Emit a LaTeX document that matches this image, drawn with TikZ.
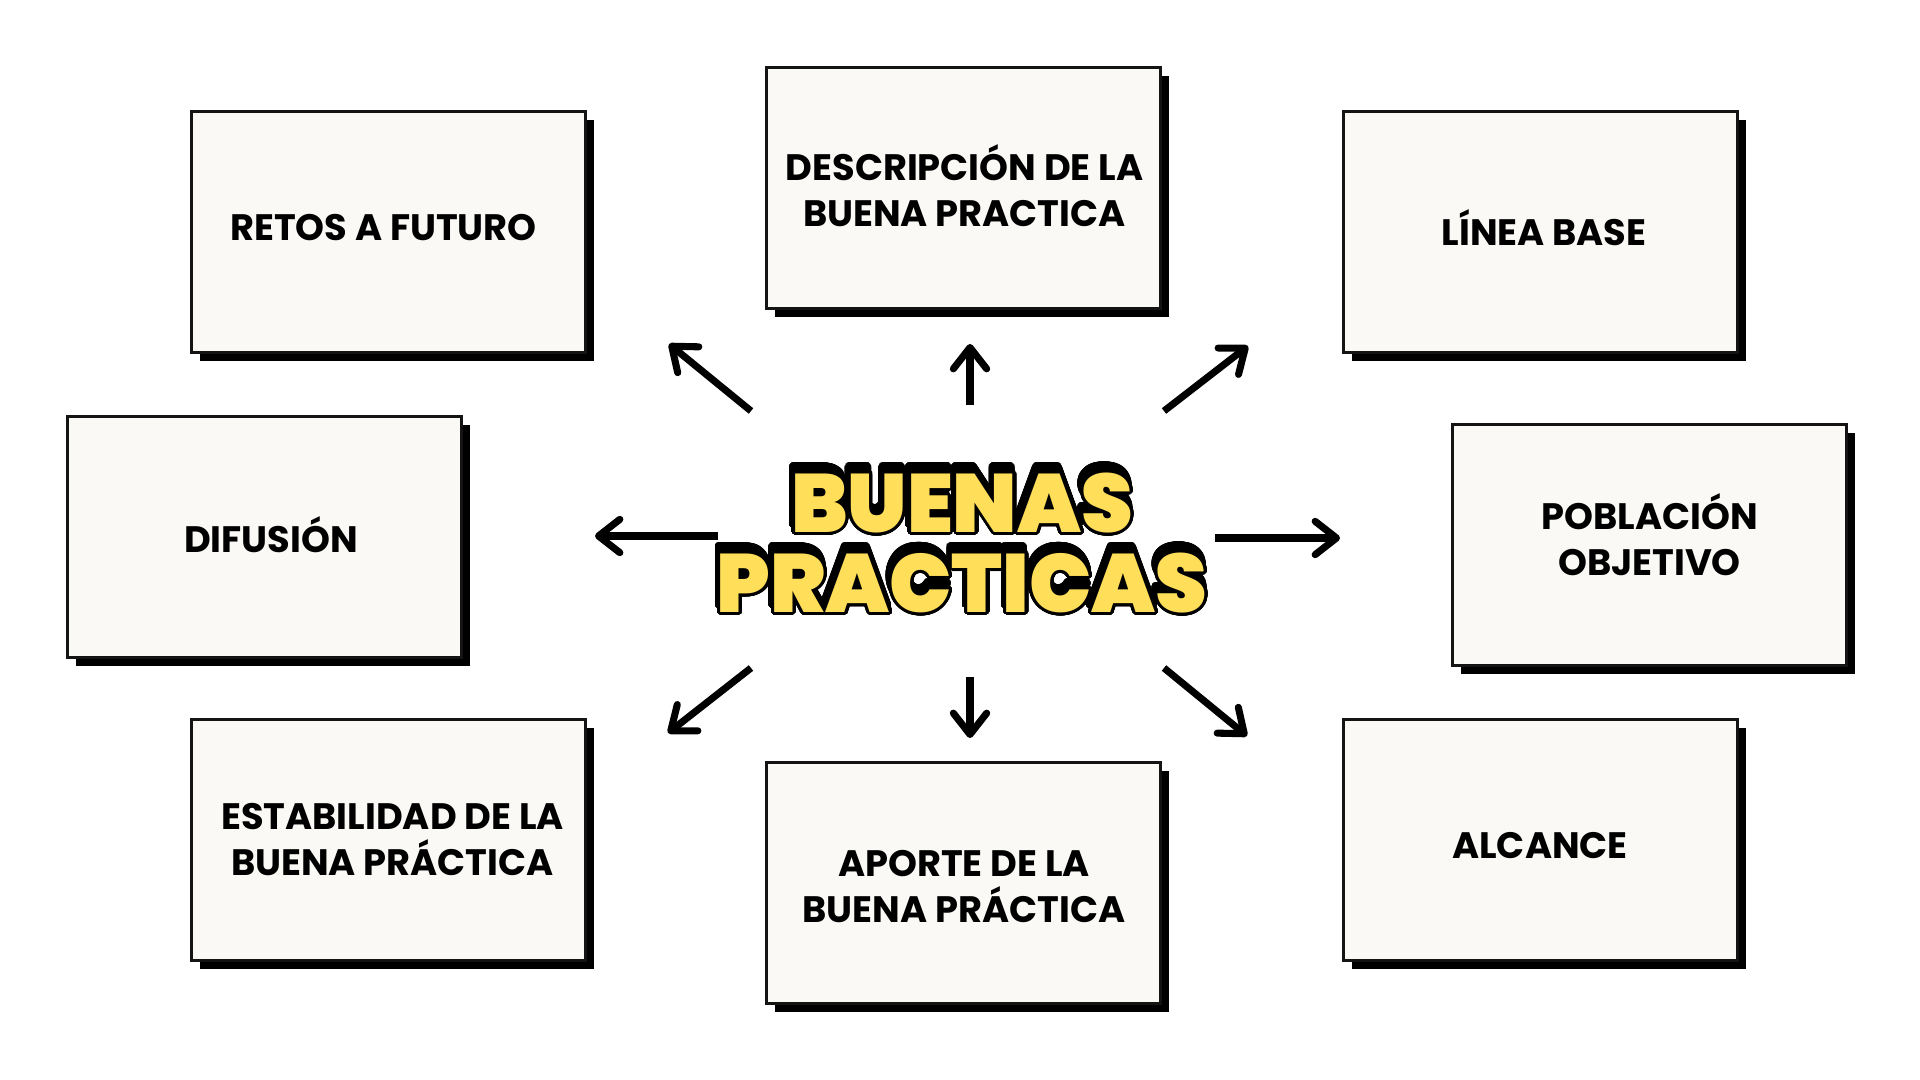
\documentclass[tikz,border=0pt]{standalone}
\usepackage{fontspec}
\usepackage[copies]{contour}
\usetikzlibrary{arrows.meta,shadows}
\newfontfamily\boxfont{Poppins}
\IfFontExistsTF{Poppins Black}
  {\newfontfamily\titlefont{Poppins Black}}
  {\IfFontExistsTF{Poppins ExtraBold}
    {\newfontfamily\titlefont{Poppins ExtraBold}}
    {\newfontfamily\titlefont{Poppins Bold}}}
\definecolor{boxfill}{HTML}{FAF9F5}
\definecolor{boxline}{HTML}{141414}
\definecolor{titleyellow}{HTML}{FFDE59}
\contournumber{48}
\tikzset{
  card/.style={draw=boxline, line width=2.25pt, fill=boxfill,
    minimum width=295.5pt, minimum height=180.75pt, inner sep=0pt,
    drop shadow={shadow xshift=6.5pt, shadow yshift=-6.5pt, fill=black, opacity=1}},
  cardtext/.style={align=center, text=black, inner sep=0pt,
    font=\boxfont\bfseries\fontsize{27.6pt}{34.5pt}\selectfont},
  pointer/.style={line width=5.3pt, draw=black,
    -{Straight Barb[length=16pt, width=25pt, line cap=round, line join=round]}},
  titletext/.style={anchor=base, inner sep=0pt,
    font=\titlefont\fontsize{62pt}{62pt}\selectfont},
}
\begin{document}
\begin{tikzpicture}[x=0.75pt, y=-0.75pt]
\useasboundingbox[fill=white] (0,0) rectangle (1920,1080);

% boxes
\node[card] (retos)   at (388.5,232)  {};
\node[card] (descr)   at (963.5,188)  {};
\node[card] (linea)   at (1540,232)   {};
\node[card] (difus)   at (264,536.5)  {};
\node[card] (pobla)   at (1649.5,545) {};
\node[card] (estab)   at (388.5,840)  {};
\node[card] (aporte)  at (963.5,883)  {};
\node[card] (alcance) at (1540,840)   {};

% box texts
\node[cardtext] (retosT)   at (383.5,228)  {RETOS A FUTURO};
\node[cardtext] (descrT)   at (964.5,186)  {DESCRIPCIÓN DE LA\\BUENA PRACTICA};
\node[cardtext] (lineaT)   at (1544,228)   {LÍNEA BASE};
\node[cardtext] (difusT)   at (271,535)    {DIFUSIÓN};
\node[cardtext] (poblaT)   at (1649.5,535) {POBLACIÓN\\OBJETIVO};
\node[cardtext] (estabT)   at (392.5,840)  {ESTABILIDAD DE LA\\BUENA PRÁCTICA};
\node[cardtext] (aporteT)  at (964,887)    {APORTE DE LA\\BUENA PRÁCTICA};
\node[cardtext] (alcanceT) at (1540,846)   {ALCANCE};

% title: shadow layer then yellow outlined layer
\contourlength{2.8pt}
\node[titletext, text=black] (t1s) at (960,525) {\contour{black}{BUENAS}};
\node[titletext, text=black] (t2s) at (960,605) {\contour{black}{PRACTICAS}};
\contourlength{2.4pt}
\node[titletext] (t1) at (962,532) {\contour{black}{\textcolor{titleyellow}{BUENAS}}};
\node[titletext] (t2) at (962,612) {\contour{black}{\textcolor{titleyellow}{PRACTICAS}}};

% arrow end points
\coordinate (ulA) at (751,411);  \coordinate (ulB) at (669,344);
\coordinate (uA)  at (970,405);  \coordinate (uB)  at (970,344);
\coordinate (urA) at (1164,411); \coordinate (urB) at (1248,346);
\coordinate (lA)  at (718,536);  \coordinate (lB)  at (595,536);
\coordinate (rA)  at (1215,538); \coordinate (rB)  at (1340,538);
\coordinate (dlA) at (751,668);  \coordinate (dlB) at (668,733);
\coordinate (dA)  at (970,677);  \coordinate (dB)  at (970,738);
\coordinate (drA) at (1164,668); \coordinate (drB) at (1247,736);

\draw[pointer] (ulA) -- (ulB);
\draw[pointer] (uA) -- (uB);
\draw[pointer] (urA) -- (urB);
\draw[pointer] (lA) -- (lB);
\draw[pointer] (rA) -- (rB);
\draw[pointer] (dlA) -- (dlB);
\draw[pointer] (dA) -- (dB);
\draw[pointer] (drA) -- (drB);
\end{tikzpicture}
\end{document}
